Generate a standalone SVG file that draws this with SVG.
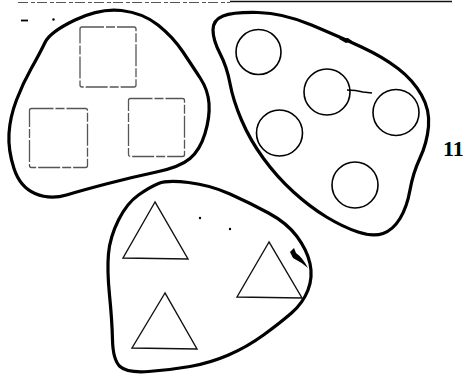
<svg xmlns="http://www.w3.org/2000/svg" width="467" height="377" viewBox="0 0 467 377">
<style>
.blob{fill:none;stroke:#000;stroke-width:3.2;stroke-linejoin:round}
.sq{fill:none;stroke:#555;stroke-width:1.3;stroke-dasharray:22 2 9 2}
.ci{fill:none;stroke:#000;stroke-width:1.6}
.tr{fill:none;stroke:#111;stroke-width:1.4;stroke-linejoin:miter}
.mark{fill:#000}
.lbl{font-family:"Liberation Serif","Times New Roman",serif;font-weight:bold;font-size:22px;fill:#000}
</style>
<rect width="467" height="377" fill="#fff"/>
<g id="scan">
<line x1="18" y1="2.5" x2="230" y2="2.5" stroke="#555" stroke-width="1.2" stroke-dasharray="10 3 4 2"/>
<line x1="230" y1="1.5" x2="452" y2="1.5" stroke="#111" stroke-width="1.3"/>
<line x1="21" y1="20.5" x2="28" y2="20.5" stroke="#000" stroke-width="1.8"/>
<circle class="mark" cx="53.5" cy="19.5" r="1.2"/>
</g>
<g id="squares-group">
<path class="blob" d="M45,42.5 Q50,32 75,20 Q100,8 121.5,10.5 Q143,13 158,25 Q173,37 183,52 Q193,67 200.5,78.5 Q208,90 209,103.5 Q210,117 205,133.5 Q200,150 190,158.5 Q180,167 156.5,172 Q133,177 108,183.5 Q83,190 66.5,195 Q50,200 35,193.5 Q20,187 14,168.5 Q8,150 9,133.5 Q10,117 16.5,100 Q23,83 31.5,68 Q40,53 45,42.5 Z"/>
<rect id="square-1" class="sq" x="80" y="27" width="56" height="60" rx="2"/>
<rect id="square-2" class="sq" x="29.5" y="108.5" width="58" height="59" rx="2"/>
<rect id="square-3" class="sq" x="128.5" y="98.5" width="56" height="58" rx="2"/>
</g>
<g id="circles-group">
<path class="blob" d="M213,30 Q213,20 223,16 Q233,12 258,12.5 Q283,13 311.5,25 Q340,37 361.5,47 Q383,57 398,68.5 Q413,80 421.5,95 Q430,110 428.5,126.5 Q427,143 420,158 Q413,173 410,190 Q407,207 400,218.5 Q393,230 383,233.5 Q373,237 358,232 Q343,227 326.5,217 Q310,207 293.5,192 Q277,177 263.5,158.5 Q250,140 241.5,120 Q233,100 230,83.5 Q227,67 220,53.5 Q213,40 213,30 Z"/>
<path class="mark" d="M339,39 L348,38 L352,41 L346,43 Z"/>
<circle id="circle-1" class="ci" cx="258.5" cy="52" r="22.5"/>
<circle id="circle-2" class="ci" cx="327" cy="92" r="23"/>
<circle id="circle-3" class="ci" cx="396" cy="112.5" r="23"/>
<circle id="circle-4" class="ci" cx="279.5" cy="133" r="23"/>
<circle id="circle-5" class="ci" cx="355" cy="185" r="23"/>
<path d="M347,90 Q356,90 363,92 L372,93" fill="none" stroke="#000" stroke-width="1.6"/>
</g>
<g id="triangles-group">
<path class="blob" d="M138.5,195 Q150,187 158.5,183.5 Q167,180 188.5,182.5 Q210,185 230,194 Q250,203 268.5,213 Q287,223 297,236.5 Q307,250 310,263.5 Q313,277 308,290 Q303,303 291.5,313 Q280,323 263.5,335 Q247,347 228.5,355 Q210,363 190,366.5 Q170,370 148.5,371.5 Q127,373 120,366.5 Q113,360 112.5,340 Q112,320 109.5,295 Q107,270 108.5,253.5 Q110,237 118.5,220 Q127,203 138.5,195 Z"/>
<path class="mark" d="M290,252 L294,248 L296,253 Q303,258 308,268 Q301,262 293,258 Z"/>
<polygon id="triangle-1" class="tr" points="155,202 123,258 188,259"/>
<polygon id="triangle-2" class="tr" points="269,242 237,297 302,298"/>
<polygon id="triangle-3" class="tr" points="165,293 132,348 197,349"/>
<circle class="mark" cx="200" cy="218" r="1.2"/>
<circle class="mark" cx="230" cy="229" r="1.2"/>
</g>
<text class="lbl" x="443" y="156">11</text>
</svg>
